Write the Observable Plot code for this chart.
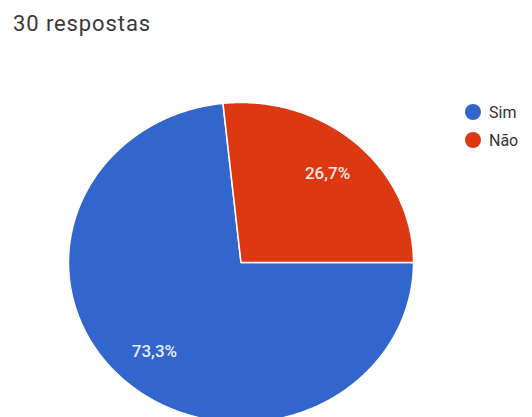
<!DOCTYPE html>
<html>
<head>
<meta charset="utf-8">
<script src="https://cdn.jsdelivr.net/npm/d3@7"></script>
<script src="https://cdn.jsdelivr.net/npm/@observablehq/plot@0.6"></script>
<style>
  html, body { margin: 0; padding: 0; background: #fff; }
  #wrap { position: relative; width: 532px; height: 417px; overflow: hidden; font-family: Roboto, "Noto Sans", sans-serif; }
  #title { position: absolute; left: 13px; top: 13px; font-size: 22px; line-height: 22px; color: #3a3a3a; letter-spacing: 0.9px; }
  #legend { position: absolute; left: 465px; top: 98px; font-size: 16px; color: #333; }
  .item { display: flex; align-items: center; height: 28px; }
  .sw { width: 16px; height: 16px; border-radius: 50%; margin-right: 8px; }
  #chart { position: absolute; left: 0; top: 0; }
</style>
</head>
<body>
<div id="wrap">
  <div id="chart"></div>
  <div id="title"></div>
  <div id="legend"></div>
</div>
<script>
const titleText = "30 respostas";
const categories = ["Sim", "Não"];
const counts = [22, 8];
const colors = ["#3366cc", "#dc3912"];

const total = d3.sum(counts);
const table = categories.map((name, i) => ({name, value: counts[i]}));
const arcs = d3.pie().sort(null).value(d => d.value)
  .startAngle(Math.PI / 2).endAngle(Math.PI / 2 + 2 * Math.PI)(table);

// polygon points for each slice, in unit coordinates (y up)
const pts = [];
for (const a of arcs) {
  const name = a.data.name;
  pts.push({name, x: 0, y: 0});
  const n = Math.max(2, Math.ceil((a.endAngle - a.startAngle) / (Math.PI / 360)));
  for (let k = 0; k <= n; k++) {
    const t = a.startAngle + (a.endAngle - a.startAngle) * k / n;
    pts.push({name, x: Math.sin(t), y: Math.cos(t)});
  }
  pts.push({name, x: 0, y: 0});
}
const fmt = v => (Math.round(v * 1000) / 10).toFixed(1).replace(".", ",") + "%";
const labels = arcs.map(a => {
  const m = (a.startAngle + a.endAngle) / 2;
  return {name: a.data.name, x: 0.75 * Math.sin(m), y: 0.75 * Math.cos(m), text: fmt(a.data.value / total)};
});

const cx = 240.5, cy = 262, rx = 172.5, ry = 160;
const plot = Plot.plot({
  width: 532,
  height: 417,
  margin: 0,
  x: {domain: [-1, 1], range: [cx - rx, cx + rx], axis: null},
  y: {domain: [-1, 1], range: [cy + ry, cy - ry], axis: null},
  color: {domain: categories, range: colors},
  style: {background: "white"},
  marks: [
    Plot.line(pts, {x: "x", y: "y", z: "name", fill: "name", stroke: "white", strokeWidth: 1.5, curve: "linear"}),
    Plot.text(labels, {x: "x", y: "y", text: "text", fill: "white", fillOpacity: 0.9, fontSize: 17, fontWeight: 500, fontFamily: "Roboto"})
  ]
});
document.getElementById("chart").appendChild(plot);
document.getElementById("title").textContent = titleText;

const color = plot.scale("color");
const legend = document.getElementById("legend");
categories.forEach((c, i) => {
  const it = document.createElement("div");
  it.className = "item";
  const sw = document.createElement("span");
  sw.className = "sw";
  sw.style.background = color.range[i];
  const tx = document.createElement("span");
  tx.textContent = c;
  it.appendChild(sw); it.appendChild(tx);
  legend.appendChild(it);
});
</script>
</body>
</html>
